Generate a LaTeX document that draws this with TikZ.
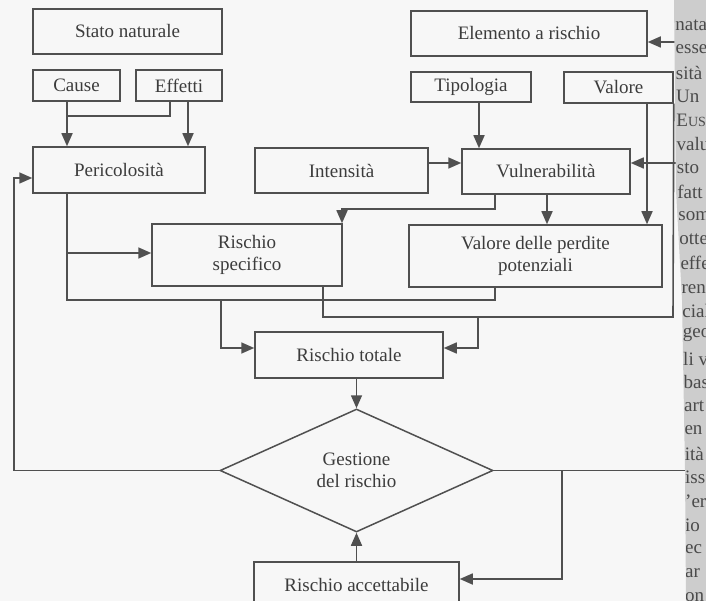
\documentclass[tikz,border=0pt]{standalone}
\usepackage{fontspec}
\setmainfont{Liberation Serif}
\usetikzlibrary{arrows.meta,shapes.geometric}
\definecolor{linecol}{HTML}{505050}
\definecolor{txtcol}{HTML}{3C3C3C}
\definecolor{colgray}{HTML}{CDCDCD}
\definecolor{coltxt}{HTML}{4A4A4A}
\definecolor{bgcol}{HTML}{F7F7F7}
\tikzset{
  box/.style={draw=linecol, line width=1.5pt, inner sep=2pt, align=center,
    text=txtcol, font=\fontsize{19}{22}\selectfont},
  ln/.style={draw=linecol, line width=1.6pt},
  arr/.style={ln, -{Triangle[length=13pt,width=11pt]}},
  coltext/.style={anchor=west, text=coltxt, inner sep=0pt, font=\fontsize{19}{19}\selectfont}
}
\begin{document}
\begin{tikzpicture}[x=1pt,y=-1pt]
\useasboundingbox (0,0) rectangle (706,601);
\fill[bgcol] (0,0) rectangle (706,601);

% boxes
\node[box, minimum width=189pt, minimum height=45pt] (stato) at (127.5,31.5) {Stato naturale};
\node[box, minimum width=87pt, minimum height=31pt] (cause) at (76.5,85.5) {Cause};
\node[box, minimum width=86pt, minimum height=31pt] (effetti) at (179,85.5) {Effetti};
\node[box, minimum width=172pt, minimum height=46pt] (peric) at (119,170) {Pericolosità};
\node[box, minimum width=236pt, minimum height=45pt] (elem) at (529,33.5) {Elemento a rischio};
\node[box, minimum width=120pt, minimum height=30pt] (tipo) at (471,87) {Tipologia};
\node[box, minimum width=109pt, minimum height=31pt] (valore) at (618.5,87.5) {Valore};
\node[box, minimum width=173pt, minimum height=45pt] (intens) at (341.5,170.5) {Intensità};
\node[box, minimum width=168pt, minimum height=45pt] (vuln) at (546,171.5) {Vulnerabilità};
\node[box, minimum width=190pt, minimum height=62pt] (rspec) at (247,255) {Rischio\\specifico};
\node[box, minimum width=253pt, minimum height=62pt] (vperd) at (535.5,256) {Valore delle perdite\\potenziali};
\node[box, minimum width=188pt, minimum height=46pt] (rtot) at (349,355) {Rischio totale};
\node[box, diamond, inner sep=0pt, minimum width=273pt, minimum height=123pt] (ges) at (356.5,470.5) {Gestione\\del rischio};
\node[box, minimum width=205pt, minimum height=46pt] (racc) at (356.5,585) {Rischio accettabile};

% guide coordinates
\coordinate (xA) at (67,0);
\coordinate (xB) at (170,0);
\coordinate (xC) at (188,0);
\coordinate (xE) at (221,0);
\coordinate (xF) at (495,0);
\coordinate (xG) at (342,0);
\coordinate (xH) at (479,0);
\coordinate (xI) at (547,0);
\coordinate (xJ) at (647,0);
\coordinate (xK) at (673,0);
\coordinate (xL) at (323,0);
\coordinate (xM) at (478,0);
\coordinate (xO) at (14,0);
\coordinate (xP) at (690,0);
\coordinate (xQ) at (562,0);
\coordinate (yA) at (0,116);
\coordinate (yB) at (0,300);
\coordinate (yC) at (0,253);
\coordinate (yD) at (0,348);
\coordinate (yE) at (0,163);
\coordinate (yF) at (0,209);
\coordinate (yG) at (0,317);
\coordinate (yH) at (0,178);
\coordinate (yI) at (0,42);
\coordinate (yJ) at (0,579);

% connectors
\draw[arr] (cause.south -| xA) -- (peric.north -| xA);
\draw[ln] (effetti.south -| xB) -- (xB |- yA) -- (xA |- yA);
\draw[arr] (effetti.south -| xC) -- (peric.north -| xC);
\draw[ln] (peric.south -| xA) -- (xA |- yB) -- (xF |- yB) -- (vperd.south -| xF);
\draw[arr] (xA |- yC) -- (rspec.west |- yC);
\draw[arr] (xE |- yB) -- (xE |- yD) -- (rtot.west |- yD);
\draw[arr] (intens.east |- yE) -- (vuln.west |- yE);
\draw[arr] (tipo.south -| xH) -- (vuln.north -| xH);
\draw[arr] (vuln.south -| xF) -- (xF |- yF) -- (xG |- yF) -- (rspec.north -| xG);
\draw[arr] (vuln.south -| xI) -- (vperd.north -| xI);
\draw[arr] (valore.south -| xJ) -- (vperd.north -| xJ);
\draw[ln] (valore.south east) -- (xK |- yG) -- (xL |- yG) -- (rspec.south -| xL);
\draw[arr] (xM |- yG) -- (xM |- yD) -- (rtot.east |- yD);
\draw[arr] (rtot.south -| ges.north) -- (ges.north);
\draw[arr] (racc.north) -- (ges.south);
\draw[arr] (ges.west) -- (xO |- ges.west) -- (xO |- yH) -- (peric.west |- yH);
\draw[arr] (ges.east) -- (xP |- ges.east) -- (xP |- yI) -- (elem.east |- yI);
\draw[arr] (xP |- yE) -- (vuln.east |- yE);
\draw[arr] (xQ |- ges.east) -- (xQ |- yJ) -- (racc.east |- yJ);

% text column of the facing page (cut off by the page edge, as in the scan)
\begin{scope}
\path[clip] (674,0) -- (676,190) -- (682,300) -- (685,470) -- (686,601) -- (706,601) -- (706,0) -- cycle;
\fill[colgray] (660,0) rectangle (706,601);
\foreach \w [count=\i from 0] in {nata,esser,sità a,Un,E{\fontsize{14}{14}\selectfont US},valu,sto,fatt,som,otte,effe,rend,cial,geo,li v,bas,art,en,ità,iss,'er,io,ec,ar,on}{
  \pgfmathsetmacro{\yy}{25+23.83*\i}
  \pgfmathsetmacro{\xx}{\yy<190 ? 675+2*\yy/190 : (\yy<300 ? 677+5*(\yy-190)/110 : (\yy<470 ? 682+3*(\yy-300)/170 : 685))}
  \node[coltext] (ct\i) at (\xx,\yy) {\w};
}
\end{scope}
\end{tikzpicture}
\end{document}
